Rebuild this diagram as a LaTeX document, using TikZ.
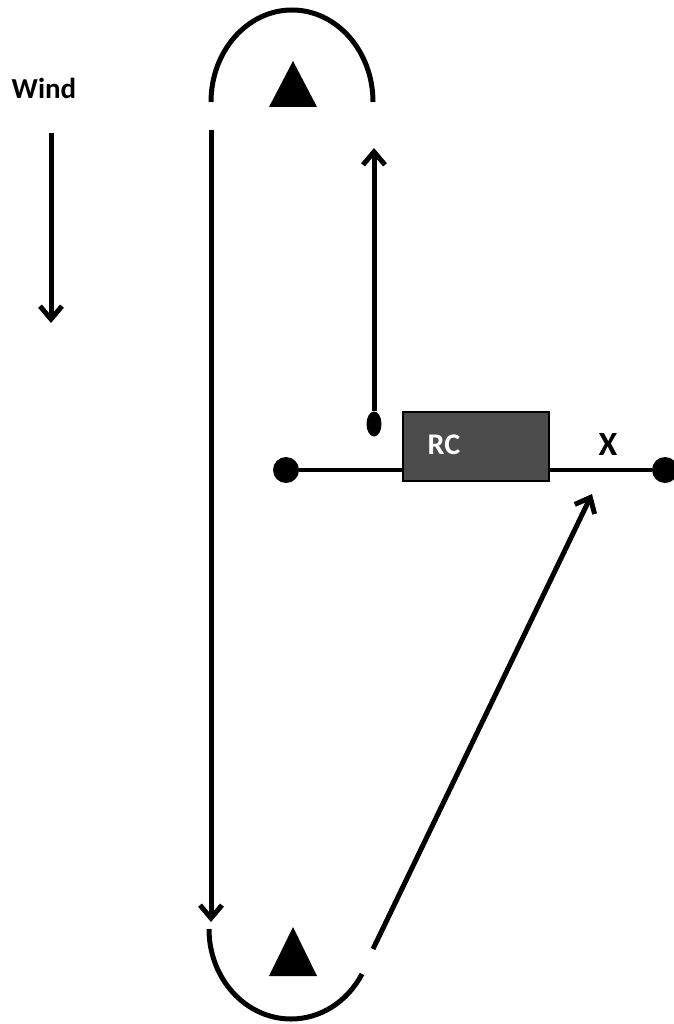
\documentclass[tikz,border=0pt]{standalone}
\usepackage{fontspec}
\setmainfont{Carlito}
\usetikzlibrary{arrows.meta,shapes.geometric}
\begin{document}
\begin{tikzpicture}[x=1pt,y=-1pt,
  conn/.style={line width=5pt,-{Straight Barb[length=13pt,width=22pt,line width=5pt]}},
  plain/.style={line width=5pt},
  wire/.style={line width=4pt},
  dot/.style={circle,fill=black,inner sep=0pt,minimum size=26pt},
  blob/.style={ellipse,fill=black,inner sep=0pt,minimum width=15pt,minimum height=25pt},
  rcbox/.style={draw=black,line width=1.5pt,fill=black!70,minimum width=146pt,minimum height=69pt,inner sep=0pt},
  lbl/.style={font=\bfseries\fontsize{29}{29}\selectfont,inner sep=0pt},
  tri/.style={fill=black}]
\useasboundingbox (0,0) rectangle (673,1024);
% top arc and triangle
\draw[plain] (211,102) arc[start angle=180,end angle=360,x radius=81,y radius=92];
\fill[tri] (293,61) -- (317,107) -- (269,107) -- cycle;
% bottom arc and triangle
\draw[plain] (209,929) arc[start angle=180,end angle=30,x radius=82,y radius=90];
\fill[tri] (293,927) -- (317,976) -- (269,976) -- cycle;
% wind
\node[lbl] (wind) at (44,88) {Wind};
\coordinate (w1) at (51,133);
\coordinate (w2) at (51,323);
\draw[conn] (w1) -- (w2);
% long downwind leg
\coordinate (d1) at (211,130);
\coordinate (d2) at (211,922);
\draw[conn] (d1) -- (d2);
% RC box and wire
\node[rcbox] (rc) at (476,446.5) {};
\node[lbl,text=white,font=\bfseries\fontsize{30}{30}\selectfont] (rct) at (444,445) {RC};
\node[dot] (ldot) at (286,470) {};
\node[dot] (rdot) at (665,470) {};
\draw[wire] (ldot) -- (rc.west |- ldot);
\draw[wire] (rc.east |- rdot) -- (rdot);
\node[lbl,font=\bfseries\fontsize{34}{34}\selectfont] (x) at (608,444) {X};
% blob and up arrow
\node[blob] (bl) at (374,424) {};
\coordinate (u2) at (374,148);
\draw[conn] (bl.north) -- (u2);
% diagonal arrow
\coordinate (g1) at (373,949);
\coordinate (g2) at (592,494);
\draw[conn] (g1) -- (g2);
\end{tikzpicture}
\end{document}
